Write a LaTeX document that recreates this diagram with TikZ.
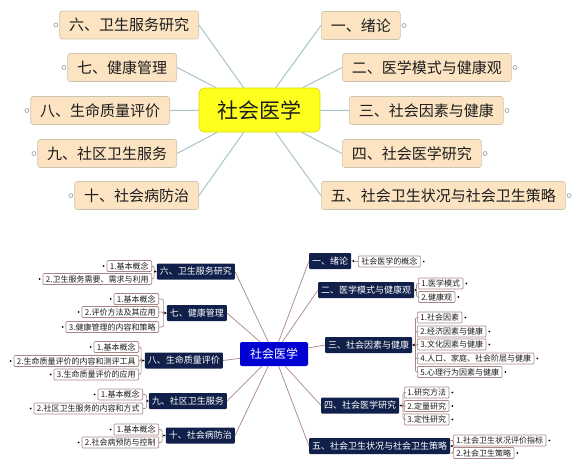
\documentclass[tikz,border=0pt]{standalone}
\usepackage{fontspec}
\setmainfont{Noto Sans CJK SC}
\usepackage{xcolor}
\definecolor{Ink}{HTML}{1C1C1C}
\definecolor{Peach}{HTML}{FCE4C3}
\definecolor{PeachEdge}{HTML}{CDC4AE}
\definecolor{Lemon}{HTML}{FFFF1E}
\definecolor{LemonEdge}{HTML}{D8D800}
\definecolor{Spoke}{HTML}{A8C4C6}
\definecolor{Navy}{HTML}{10204A}
\definecolor{Royal}{HTML}{0000D2}
\definecolor{Rose}{HTML}{A98686}

\begin{document}
\begin{tikzpicture}[x=1pt,y=-1pt,
  root/.style={rectangle,rounded corners=5pt,fill=Lemon,draw=LemonEdge,line width=0.6pt,
    font=\fontsize{21}{25}\selectfont,text=Ink,minimum width=121pt,minimum height=44pt},
  topic/.style={rectangle,rounded corners=2.5pt,fill=Peach,draw=PeachEdge,line width=0.6pt,
    font=\fontsize{15}{18}\selectfont,text=Ink,minimum height=28pt,inner xsep=9.5pt,inner ysep=0pt},
  spoke/.style={Spoke,line width=1pt},
  marker/.style={draw=black!45,line width=0.5pt,fill=white},
  hub/.style={rectangle,rounded corners=2pt,fill=Royal,text=white,
    font=\fontsize{12}{14}\selectfont,minimum width=68pt,minimum height=24pt},
  chapter/.style={rectangle,rounded corners=1pt,fill=Navy,text=white,
    font=\fontsize{9}{11}\selectfont,minimum height=16pt,inner xsep=3pt,inner ysep=0pt},
  leaf/.style={rectangle,rounded corners=1pt,fill=white,draw=Rose,line width=0.7pt,text=Ink,
    font=\fontsize{8}{10}\selectfont,minimum height=11pt,inner xsep=3pt,inner ysep=0pt},
  twig/.style={Rose,line width=0.7pt},
  brace/.style={Rose,line width=0.7pt,rounded corners=2pt}]
\useasboundingbox (0,0) rectangle (575,467);

% upper map
\node[root] (ctop) at (259.5,110) {社会医学};
\node[topic,anchor=east] (t6) at (199,25) {六、卫生服务研究};
\node[topic,anchor=east] (t7) at (177,67.5) {七、健康管理};
\node[topic,anchor=east] (t8) at (170,110.5) {八、生命质量评价};
\node[topic,anchor=east] (t9) at (177,153.5) {九、社区卫生服务};
\node[topic,anchor=east] (t10) at (199,195.5) {十、社会病防治};
\node[topic,anchor=west] (t1) at (321,25.5) {一、绪论};
\node[topic,anchor=west] (t2) at (342,67.5) {二、医学模式与健康观};
\node[topic,anchor=west] (t3) at (349,110.5) {三、社会因素与健康};
\node[topic,anchor=west] (t4) at (342,153.5) {四、社会医学研究};
\node[topic,anchor=west] (t5) at (321,195.5) {五、社会卫生状况与社会卫生策略};
\draw[spoke] (ctop) -- (t6.east);
\draw[spoke] (ctop) -- (t7.east);
\draw[spoke] (ctop) -- (t8.east);
\draw[spoke] (ctop) -- (t9.east);
\draw[spoke] (ctop) -- (t10.east);
\draw[spoke] (ctop) -- (t1.west);
\draw[spoke] (ctop) -- (t2.west);
\draw[spoke] (ctop) -- (t3.west);
\draw[spoke] (ctop) -- (t4.west);
\draw[spoke] (ctop) -- (t5.west);
\draw[marker] (t6.west) ++(-3.5,0) circle (2pt);
\draw[marker] (t7.west) ++(-3.5,0) circle (2pt);
\draw[marker] (t8.west) ++(-3.5,0) circle (2pt);
\draw[marker] (t9.west) ++(-3.5,0) circle (2pt);
\draw[marker] (t10.west) ++(-3.5,0) circle (2pt);
\draw[marker] (t1.east) ++(3.5,0) circle (2pt);
\draw[marker] (t2.east) ++(3.5,0) circle (2pt);
\draw[marker] (t3.east) ++(3.5,0) circle (2pt);
\draw[marker] (t4.east) ++(3.5,0) circle (2pt);
\draw[marker] (t5.east) ++(3.5,0) circle (2pt);

% lower map
\node[hub] (cbot) at (274,354) {社会医学};
\node[chapter,anchor=east] (b6) at (235,271.5) {六、卫生服务研究};
\node[chapter,anchor=east] (b7) at (227,313) {七、健康管理};
\node[chapter,anchor=east] (b8) at (223,360.5) {八、生命质量评价};
\node[chapter,anchor=east] (b9) at (227,401) {九、社区卫生服务};
\node[chapter,anchor=east] (b10) at (235,435.5) {十、社会病防治};
\node[chapter,anchor=west] (b1) at (309,261) {一、绪论};
\node[chapter,anchor=west] (b2) at (318,290) {二、医学模式与健康观};
\node[chapter,anchor=west] (b3) at (325,345) {三、社会因素与健康};
\node[chapter,anchor=west] (b4) at (321,405.5) {四、社会医学研究};
\node[chapter,anchor=west] (b5) at (309,446) {五、社会卫生状况与社会卫生策略};
\draw[twig] (cbot) -- (b6.east);
\draw[twig] (cbot) -- (b7.east);
\draw[twig] (cbot) -- (b8.east);
\draw[twig] (cbot) -- (b9.east);
\draw[twig] (cbot) -- (b10.east);
\draw[twig] (cbot) -- (b1.west);
\draw[twig] (cbot) -- (b2.west);
\draw[twig] (cbot) -- (b3.west);
\draw[twig] (cbot) -- (b4.west);
\draw[twig] (cbot) -- (b5.west);

% left leaves
\node[leaf,anchor=east] (b6a) at (152,266) {1.基本概念};
\node[leaf,anchor=east] (b6b) at (152,279) {2.卫生服务需要、需求与利用};
\node[leaf,anchor=east] (b7a) at (159,299) {1.基本概念};
\node[leaf,anchor=east] (b7b) at (159,312) {2.评价方法及其应用};
\node[leaf,anchor=east] (b7c) at (159,327) {3.健康管理的内容和策略};
\node[leaf,anchor=east] (b8a) at (139,347) {1.基本概念};
\node[leaf,anchor=east] (b8b) at (139,361) {2.生命质量评价的内容和测评工具};
\node[leaf,anchor=east] (b8c) at (139,374.5) {3.生命质量评价的应用};
\node[leaf,anchor=east] (b9a) at (143,394.5) {1.基本概念};
\node[leaf,anchor=east] (b9b) at (143,408.5) {2.社区卫生服务的内容和方式};
\node[leaf,anchor=east] (b10a) at (159,429.5) {1.基本概念};
\node[leaf,anchor=east] (b10b) at (159,442.5) {2.社会病预防与控制};
\draw[brace] (b6.west) -- ++(-2.5,0) |- (b6a.east);
\draw[brace] (b6.west) -- ++(-2.5,0) |- (b6b.east);
\draw[brace] (b7.west) -- ++(-3,0) |- (b7a.east);
\draw[brace] (b7.west) -- ++(-3,0) |- (b7b.east);
\draw[brace] (b7.west) -- ++(-3,0) |- (b7c.east);
\draw[brace] (b8.west) -- ++(-3.5,0) |- (b8a.east);
\draw[brace] (b8.west) -- ++(-3.5,0) |- (b8b.east);
\draw[brace] (b8.west) -- ++(-3.5,0) |- (b8c.east);
\draw[brace] (b9.west) -- ++(-2,0) |- (b9a.east);
\draw[brace] (b9.west) -- ++(-2,0) |- (b9b.east);
\draw[brace] (b10.west) -- ++(-3.5,0) |- (b10a.east);
\draw[brace] (b10.west) -- ++(-3.5,0) |- (b10b.east);
\fill (b6.west) ++(-1.5,0) circle (1pt);
\fill (b7.west) ++(-1.5,0) circle (1pt);
\fill (b8.west) ++(-1.5,0) circle (1pt);
\fill (b9.west) ++(-1.5,0) circle (1pt);
\fill (b10.west) ++(-1.5,0) circle (1pt);
\fill (b6a.west) ++(-3,0) circle (0.9pt);
\fill (b6b.west) ++(-3,0) circle (0.9pt);
\fill (b7a.west) ++(-3,0) circle (0.9pt);
\fill (b7b.west) ++(-3,0) circle (0.9pt);
\fill (b7c.west) ++(-3,0) circle (0.9pt);
\fill (b8a.west) ++(-3,0) circle (0.9pt);
\fill (b8b.west) ++(-3,0) circle (0.9pt);
\fill (b8c.west) ++(-3,0) circle (0.9pt);
\fill (b9a.west) ++(-3,0) circle (0.9pt);
\fill (b9b.west) ++(-3,0) circle (0.9pt);
\fill (b10a.west) ++(-3,0) circle (0.9pt);
\fill (b10b.west) ++(-3,0) circle (0.9pt);

% right leaves
\node[leaf,anchor=west] (b1a) at (358,261.5) {社会医学的概念};
\node[leaf,anchor=west] (b2a) at (418,283.5) {1.医学模式};
\node[leaf,anchor=west] (b2b) at (418,297) {2.健康观};
\node[leaf,anchor=west] (b3a) at (417,317.5) {1.社会因素};
\node[leaf,anchor=west] (b3b) at (417,331.5) {2.经济因素与健康};
\node[leaf,anchor=west] (b3c) at (417,344.5) {3.文化因素与健康};
\node[leaf,anchor=west] (b3d) at (417,358.5) {4.人口、家庭、社会阶层与健康};
\node[leaf,anchor=west] (b3e) at (417,372) {5.心理行为因素与健康};
\node[leaf,anchor=west] (b4a) at (404,392.5) {1.研究方法};
\node[leaf,anchor=west] (b4b) at (404,406) {2.定量研究};
\node[leaf,anchor=west] (b4c) at (404,419.5) {3.定性研究};
\node[leaf,anchor=west] (b5a) at (453,440.5) {1.社会卫生状况评价指标};
\node[leaf,anchor=west] (b5b) at (453,453) {2.社会卫生策略};
\draw[twig] (b1.east) -- (b1a.west);
\draw[brace] (b2.east) -- ++(2,0) |- (b2a.west);
\draw[brace] (b2.east) -- ++(2,0) |- (b2b.west);
\draw[brace] (b3.east) -- ++(3,0) |- (b3a.west);
\draw[brace] (b3.east) -- ++(3,0) |- (b3b.west);
\draw[brace] (b3.east) -- ++(3,0) |- (b3c.west);
\draw[brace] (b3.east) -- ++(3,0) |- (b3d.west);
\draw[brace] (b3.east) -- ++(3,0) |- (b3e.west);
\draw[brace] (b4.east) -- ++(3.5,0) |- (b4a.west);
\draw[brace] (b4.east) -- ++(3.5,0) |- (b4b.west);
\draw[brace] (b4.east) -- ++(3.5,0) |- (b4c.west);
\draw[brace] (b5.east) -- ++(3,0) |- (b5a.west);
\draw[brace] (b5.east) -- ++(3,0) |- (b5b.west);
\fill (b1.east) ++(2,0) circle (1pt);
\fill (b2.east) ++(1.5,0) circle (1pt);
\fill (b3.east) ++(1.5,0) circle (1pt);
\fill (b4.east) ++(1.5,0) circle (1pt);
\fill (b5.east) ++(1.5,0) circle (1pt);
\fill (b1a.east) ++(3,0) circle (0.9pt);
\fill (b2a.east) ++(3,0) circle (0.9pt);
\fill (b2b.east) ++(3,0) circle (0.9pt);
\fill (b3a.east) ++(3,0) circle (0.9pt);
\fill (b3b.east) ++(3,0) circle (0.9pt);
\fill (b3c.east) ++(3,0) circle (0.9pt);
\fill (b3d.east) ++(3,0) circle (0.9pt);
\fill (b3e.east) ++(3,0) circle (0.9pt);
\fill (b4a.east) ++(3,0) circle (0.9pt);
\fill (b4b.east) ++(3,0) circle (0.9pt);
\fill (b4c.east) ++(3,0) circle (0.9pt);
\fill (b5a.east) ++(3,0) circle (0.9pt);
\fill (b5b.east) ++(3,0) circle (0.9pt);
\end{tikzpicture}
\end{document}
